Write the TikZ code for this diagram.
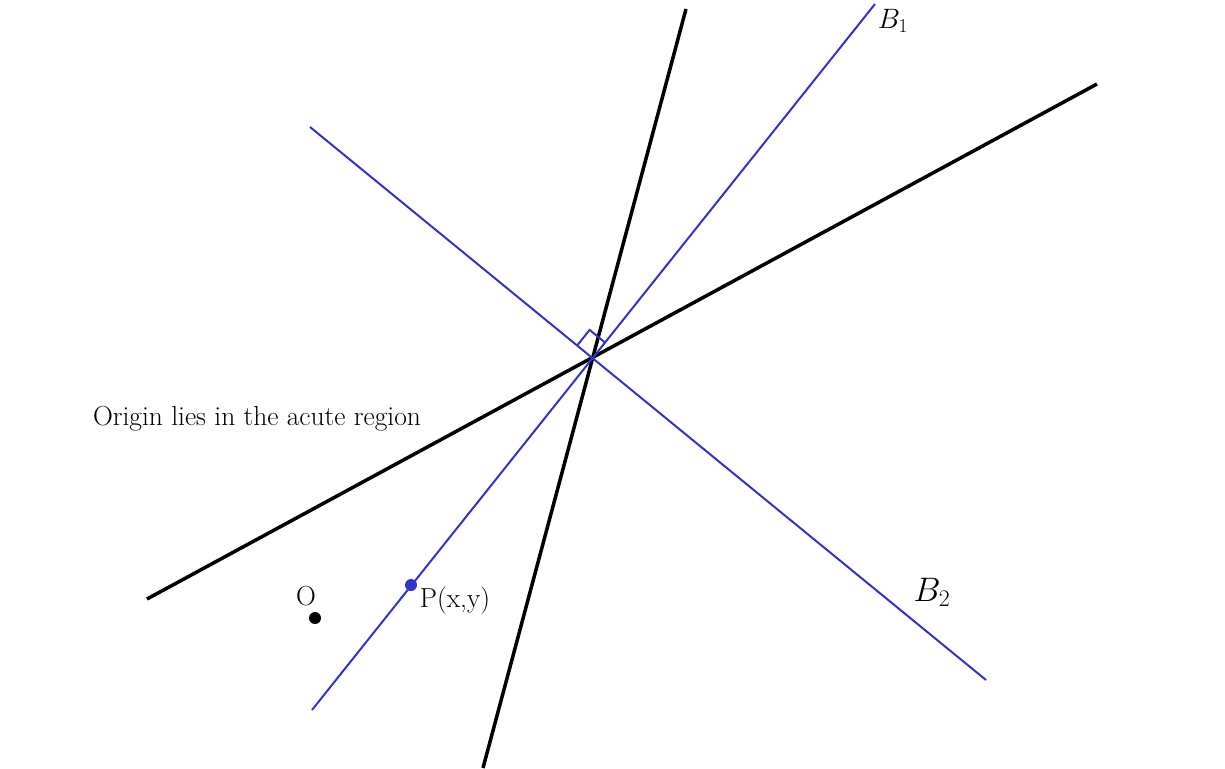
\documentclass[tikz,border=0pt]{standalone}
\usepackage{fix-cm}
\usepackage{tikz}
\usetikzlibrary{calc}
\definecolor{bisect}{RGB}{51,51,204}

\begin{document}
\begin{tikzpicture}
  [x=1pt,y=-1pt,
   every node/.style={font=\fontsize{27.5}{32}\selectfont},
   given/.style={line width=3.5pt,black},
   bis/.style={line width=2pt,bisect},
   dot/.style={circle,inner sep=0pt,minimum size=12pt}]
  \useasboundingbox (0,0) rectangle (1225,768);
  \coordinate (l1a) at (686,9);
  \coordinate (l1b) at (483,768);
  \coordinate (l2a) at (147,599);
  \coordinate (l2b) at (1097,84);
  \coordinate (b1a) at (312,710);
  \coordinate (b1b) at (875,4);
  \coordinate (b2a) at (310,127);
  \coordinate (b2b) at (986,680);

  \foreach \from/\to in {l1a/l1b,l2a/l2b}
    \draw[given] (\from) -- (\to);
  \foreach \from/\to in {b1a/b1b,b2a/b2b}
    \draw[bis] (\from) -- (\to);

  % right angle mark at the meeting point
  \coordinate (m) at (intersection of b1a--b1b and b2a--b2b);
  \coordinate (r1) at ($(m)!20pt!(b2a)$);
  \coordinate (r2) at ($(m)!20pt!(b1b)$);
  \draw[bisect,line width=2pt] (r1) -- ($(r1)+(r2)-(m)$) -- (r2);

  \node (p) at (411,585) [dot,fill=bisect] {};
  \node (o) at (315,618) [dot,fill=black] {};
  \node (olab) at (306,596) {O};
  \node (plab) at (455,601) {P(x,y)};
  \node (note) at (257,419) {Origin lies in the acute region};
  \node (b1lab) at (893,21) [font=\fontsize{28}{32}\selectfont] {$B_1$};
  \node (b2lab) at (932,592) [font=\fontsize{34}{40}\selectfont] {$B_2$};
\end{tikzpicture}
\end{document}
